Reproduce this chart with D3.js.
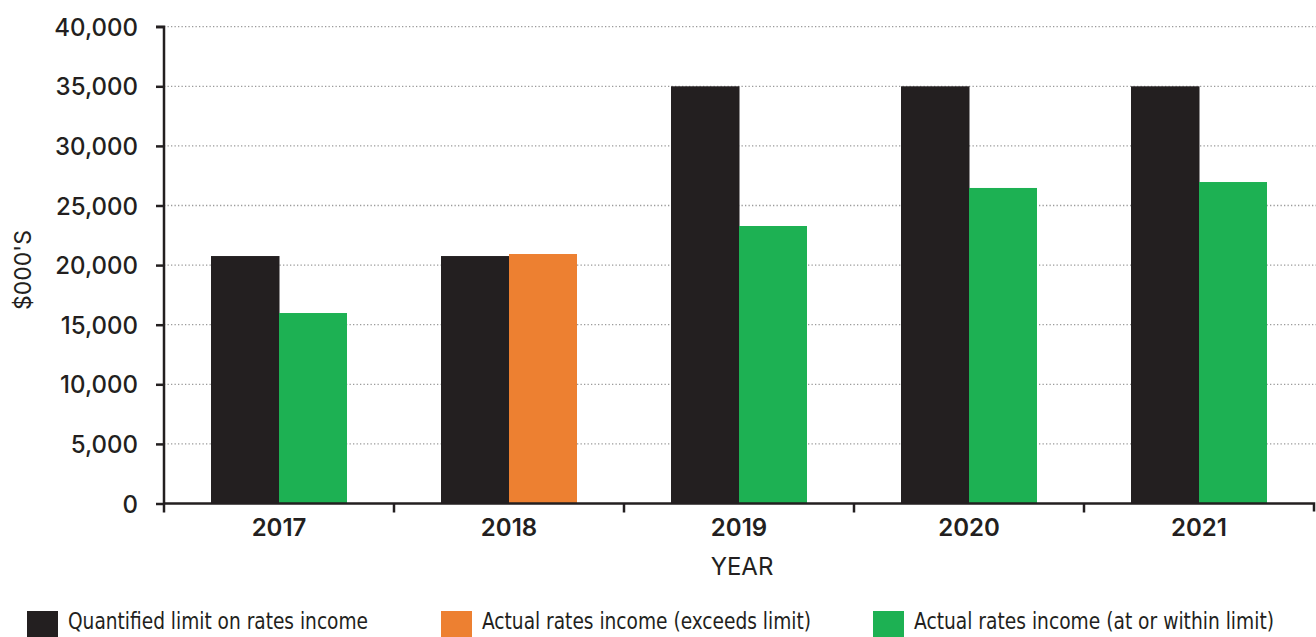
<!DOCTYPE html>
<html><head><meta charset="utf-8">
<script src="https://cdn.jsdelivr.net/npm/d3@7"></script>
<style>body{margin:0;background:#fff}svg{display:block}</style>
</head><body>
<svg id="c" width="1316" height="637"></svg>
<script>
const years = ["2017","2018","2019","2020","2021"];
const limitValues = [20760, 20760, 35000, 35000, 35000];
const actualValues = [15980, 20930, 23280, 26470, 26970];
const exceeds = [false, true, false, false, false];
const yTicks = [0,5000,10000,15000,20000,25000,30000,35000,40000];
const legendLabels = ["Quantified limit on rates income","Actual rates income (exceeds limit)","Actual rates income (at or within limit)"];
const colors = {limit:"#231f20", exceeds:"#ed8031", within:"#1db153"};

(function(){
const svg = d3.select("#c");
const pL = 164, pR = 1314, pT = 26.7, pB = 503.5;
const font = "Inter, 'Liberation Sans', sans-serif";
const x = d3.scaleBand().domain(years).range([pL,pR]).paddingInner(0).paddingOuter(0);
const y = d3.scaleLinear().domain([0,40000]).range([pB, pT]);
const inner = 47/230;
const bw = (x.bandwidth()*(1-2*inner))/2;

svg.append("g").selectAll("line").data(yTicks.filter(d=>d>0)).join("line")
  .attr("x1",pL).attr("x2",1316).attr("y1",d=>y(d)).attr("y2",d=>y(d))
  .attr("stroke","#9a9a9a").attr("stroke-width",1.3).attr("stroke-dasharray","1.3,2.2");

const g = svg.append("g");
g.selectAll("rect.lim").data(years).join("rect").attr("class","lim")
  .attr("x",d=>x(d)+x.bandwidth()*inner).attr("width",bw+0.5)
  .attr("y",(d,i)=>y(limitValues[i])).attr("height",(d,i)=>y(0)-y(limitValues[i]))
  .attr("fill",colors.limit);
g.selectAll("rect.act").data(years).join("rect").attr("class","act")
  .attr("x",d=>x(d)+x.bandwidth()*inner+bw).attr("width",bw)
  .attr("y",(d,i)=>y(actualValues[i])).attr("height",(d,i)=>y(0)-y(actualValues[i]))
  .attr("fill",(d,i)=>exceeds[i]?colors.exceeds:colors.within);

const yAxis = d3.axisLeft(y).tickValues(yTicks).tickFormat(d3.format(",")).tickSize(8).tickPadding(18);
const ya = svg.append("g").attr("transform",`translate(${pL},0)`).call(yAxis);
ya.select(".domain").attr("stroke","#231f20").attr("stroke-width",2.5).attr("d",`M-8,${pT}H0V${pB}`);
ya.selectAll(".tick line").attr("stroke","#231f20").attr("stroke-width",2.5);
ya.selectAll(".tick text").attr("fill","#231f20").style("font-family",font)
  .style("font-size","24px").style("font-weight","500").attr("dy","0.36em");

const xAxis = d3.axisBottom(x).tickSize(0).tickPadding(15);
const xa = svg.append("g").attr("transform",`translate(0,${pB})`).call(xAxis);
xa.select(".domain").attr("stroke","#231f20").attr("stroke-width",2.5).attr("d",`M${pL},0H${pR}V8`);
xa.selectAll(".tick text").attr("fill","#231f20").style("font-family",font)
  .style("font-size","24px").style("font-weight","600");
xa.append("g").selectAll("line").data(years).join("line")
  .attr("x1",d=>x(d)).attr("x2",d=>x(d)).attr("y1",0).attr("y2",9)
  .attr("stroke","#231f20").attr("stroke-width",2.5);

svg.append("text").attr("x",742).attr("y",575).attr("text-anchor","middle")
  .style("font-family",font).style("font-size","24px").attr("fill","#231f20").text("YEAR");
svg.append("text").attr("transform","translate(31,270) rotate(-90)").attr("text-anchor","middle")
  .style("font-family",font).style("font-size","23px").attr("fill","#231f20").text("$000'S");

const legX = [27, 441, 873];
const legW = [300, 329, 360];
const legC = [colors.limit, colors.exceeds, colors.within];
const lg = svg.append("g").selectAll("g").data(legendLabels).join("g")
  .attr("transform",(d,i)=>`translate(${legX[i]},611)`);
lg.append("rect").attr("width",31).attr("height",26).attr("fill",(d,i)=>legC[i]);
lg.append("text").attr("x",41).attr("y",18).text(d=>d)
  .attr("textLength",(d,i)=>legW[i]).attr("lengthAdjust","spacingAndGlyphs")
  .style("font-family","'Liberation Sans Narrow','DejaVu Sans Condensed',sans-serif").style("font-size","23px").attr("fill","#231f20");
})();
</script>
</body></html>
